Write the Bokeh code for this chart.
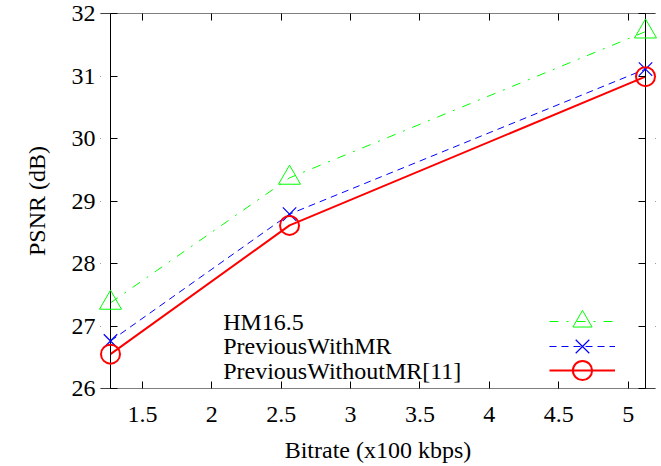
from bokeh.plotting import figure
from bokeh.models import (Range1d, FixedTicker, LinearAxis, Legend, LegendItem,
                          Label, NumeralTickFormatter, CustomJSTickFormatter,
                          BoxAnnotation)
from bokeh.core.properties import value
from bokeh.embed import file_html
from bokeh.resources import INLINE

# ---- data ----
bitrate = [1.27, 2.56, 5.125]
hm165 = [27.37, 29.37, 31.71]
prev_with_mr = [26.76, 28.79, 31.11]
prev_without_mr = [26.55, 28.61, 30.99]
series_names = ["HM16.5", "PreviousWithMR", "PreviousWithoutMR[11]"]
x_ticks = [1.5, 2, 2.5, 3, 3.5, 4, 4.5, 5]
y_ticks = [26, 27, 28, 29, 30, 31, 32]

FONT = "Liberation Serif"
FS = "24px"

# layout: plot box 535 px wide; the frame is 10 px wider on each side so the
# edge markers are not clipped (gnuplot draws them over the border)
BOX_W, PAD = 535, 10
xmin, xmax = min(bitrate), max(bitrate)
pad_units = (xmax - xmin) * PAD / BOX_W

p = figure(width=661, height=466,
           x_range=Range1d(xmin - pad_units, xmax + pad_units),
           y_range=Range1d(min(y_ticks), max(y_ticks)),
           output_backend="svg", toolbar_location=None,
           min_border_left=100, min_border_right=6,
           min_border_top=13, min_border_bottom=78)
p.grid.visible = False
p.outline_line_color = None
p.background_fill_color = "white"
p.border_fill_color = "white"

def style_axis(ax, ticks, tick_in=7, labels=True):
    ax.ticker = FixedTicker(ticks=ticks)
    ax.major_tick_in = tick_in
    ax.major_tick_out = 0
    ax.minor_tick_line_color = None
    ax.major_tick_line_color = "black"
    ax.axis_line_color = None
    ax.major_label_text_font = FONT
    ax.major_label_text_color = "black"
    if labels:
        ax.major_label_text_font_size = FS
    else:
        ax.formatter = CustomJSTickFormatter(code="return ''")
        ax.major_label_text_font_size = "1px"
        ax.major_label_standoff = 0

style_axis(p.xaxis[0], x_ticks)
style_axis(p.yaxis[0], y_ticks, tick_in=PAD + 7)
p.xaxis[0].formatter = NumeralTickFormatter(format="0.[0]")
p.xaxis[0].major_label_standoff = 18
p.yaxis[0].major_label_standoff = 5
p.xaxis.axis_label = "Bitrate (x100 kbps)"
p.yaxis.axis_label = "PSNR (dB)"
for ax in (p.xaxis[0], p.yaxis[0]):
    ax.axis_label_text_font = FONT
    ax.axis_label_text_font_size = FS
    ax.axis_label_text_font_style = "normal"
    ax.axis_label_text_color = "black"
p.xaxis[0].axis_label_standoff = 12
p.yaxis[0].axis_label_standoff = 19

top_ax = LinearAxis()
style_axis(top_ax, x_ticks, labels=False)
p.add_layout(top_ax, "above")
right_ax = LinearAxis()
style_axis(right_ax, y_ticks, tick_in=PAD + 7, labels=False)
p.add_layout(right_ax, "right")

# white margins outside the plot box hide the first part of the y ticks
p.add_layout(BoxAnnotation(right=xmin, fill_color="white", fill_alpha=1, line_color=None))
p.add_layout(BoxAnnotation(left=xmax, fill_color="white", fill_alpha=1, line_color=None))
# the plot border
p.add_layout(BoxAnnotation(left=xmin, right=xmax, bottom=min(y_ticks), top=max(y_ticks),
                           fill_alpha=0, line_color="black", line_width=1, line_alpha=1))

GREEN, BLUE, RED = "#00ff00", "#0000ff", "#ff0000"

g_line = p.line(bitrate, hm165, line_color=GREEN, line_width=1, line_dash="9 8 2 8")
g_mark = p.scatter(bitrate, hm165, marker="triangle", size=22, fill_color=None,
                   line_color=GREEN, line_width=1, level="overlay")
b_line = p.line(bitrate, prev_with_mr, line_color=BLUE, line_width=1, line_dash="7 5")
b_mark = p.scatter(bitrate, prev_with_mr, marker="x", size=19,
                   line_color=BLUE, line_width=1.2, level="overlay")
r_line = p.line(bitrate, prev_without_mr, line_color=RED, line_width=2)
r_mark = p.scatter(bitrate, prev_without_mr, marker="circle", size=19, fill_color=None,
                   line_color=RED, line_width=2, level="overlay")

# gnuplot-style key: text on the left, samples on the right
row_y = [66.7, 42.4, 17.7]
pairs = [(g_line, g_mark), (b_line, b_mark), (r_line, r_mark)]
for name, (ln, mk), yc in zip(series_names, pairs, row_y):
    leg = Legend(items=[LegendItem(label=value(""), renderers=[ln, mk])],
                 location=(449, yc - 24), glyph_width=66, glyph_height=48,
                 label_width=0, label_height=0, label_standoff=0,
                 label_text_font_size="1px", padding=0, margin=0, spacing=0,
                 border_line_color=None, background_fill_color=None,
                 background_fill_alpha=0)
    p.add_layout(leg)
    p.add_layout(Label(x=PAD + 112.7, y=yc, x_units="screen", y_units="screen",
                       text=name, text_font=FONT, text_font_size=FS,
                       text_baseline="middle", text_align="left",
                       text_color="black"))

open("out.html", "w").write(file_html(p, INLINE))
